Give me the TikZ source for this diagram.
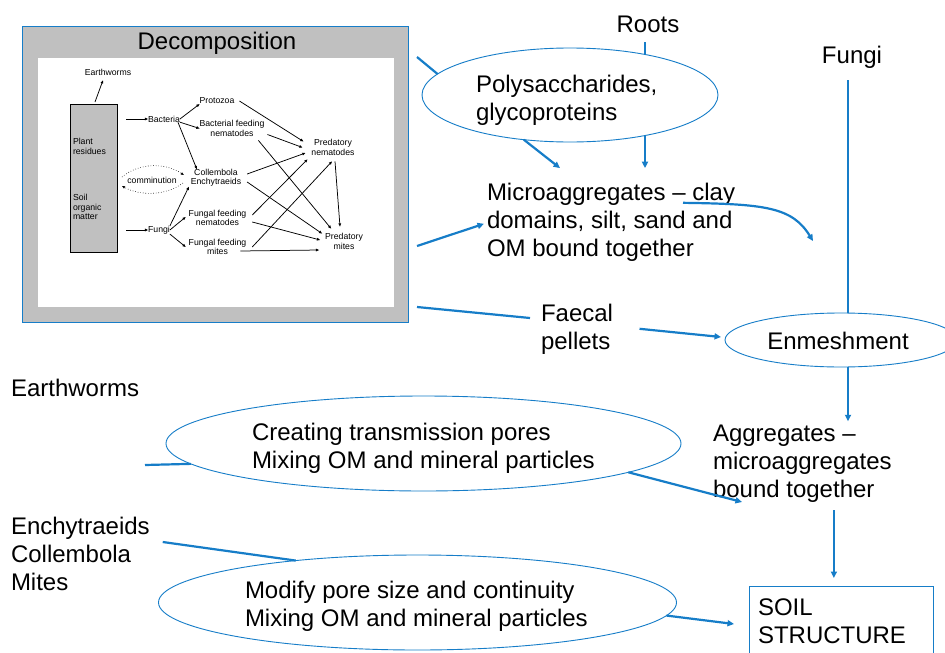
\documentclass[tikz,border=0pt]{standalone}
\usepackage{fontspec}
\setmainfont{Liberation Sans}
\usetikzlibrary{shapes.geometric,arrows.meta}
\definecolor{lblue}{RGB}{22,125,200}
\definecolor{boxgray}{RGB}{192,192,192}
\begin{document}
\begin{tikzpicture}[x=1pt,y=-1pt,
  big/.style={font=\fontsize{24}{28}\selectfont, inner sep=0pt, outer sep=0pt},
  small/.style={font=\fontsize{8.7}{9.4}\selectfont, inner sep=0pt, outer sep=0pt, align=center},
  conn/.style={draw=lblue, line width=2.2pt},
  carr/.style={conn, -{Triangle[length=6.5pt,width=6pt]}},
  oval/.style={ellipse, draw=lblue, line width=0.9pt, inner sep=0pt, outer sep=0pt},
  sarr/.style={draw=black, line width=0.75pt, -{Triangle[length=3.2pt,width=2.6pt]}},
  dotarr/.style={draw=black, line width=0.6pt, dotted, -{Triangle[length=3pt,width=2.4pt]}},
]
\useasboundingbox (0,0) rectangle (945,653);
\fill[white] (0,0) rectangle (945,653);

% ---------- Decomposition panel ----------
\node[draw=lblue, line width=0.8pt, fill=boxgray, minimum width=386, minimum height=296,
      anchor=north west, inner sep=0pt, outer sep=0pt] (decomp) at (22,26) {};
\node[fill=white, minimum width=356, minimum height=249, anchor=north west, inner sep=0pt] (panel) at (38,58) {};
\node[big] (dtitle) at (217,43) {Decomposition};

\node[draw=black, line width=0.7pt, fill=boxgray, minimum width=47, minimum height=148,
      anchor=north west, inner sep=0pt, outer sep=0pt] (res) at (70,104) {};
\node[small, align=left, anchor=west] (plant) at (73,146.5) {Plant\\residues};
\node[small, align=left, anchor=west] (som) at (73,207) {Soil\\organic\\matter};
\node[small] (ew) at (108,72) {Earthworms};
\node[small] (bact) at (164,119) {Bacteria};
\node[small] (proto) at (217,101) {Protozoa};
\node[small] (bfn) at (232,128.5) {Bacterial feeding\\nematodes};
\node[small] (pnem) at (333,147.5) {Predatory\\nematodes};
\node[small] (coll) at (216,178) {Collembola\\Enchytraeids};
\node[small] (comm) at (152,180) {comminution};
\node[small] (fungi) at (159,230) {Fungi};
\node[small] (ffn) at (217.5,218) {Fungal feeding\\nematodes};
\node[small] (ffm) at (217.5,247) {Fungal feeding\\mites};
\node[small] (pmites) at (344,241.5) {Predatory\\mites};

\coordinate (bsrc) at (126,119);
\coordinate (fsrc) at (126,230);

\draw[sarr] ([xshift=1.5pt,yshift=2pt]res.north) -- ([xshift=-5pt,yshift=-5pt]ew.south);
\draw[sarr] (bsrc) -- (bact.west);
\draw[sarr] (fsrc) -- (fungi.west);
\draw[sarr] (bact.east) -- (proto.south west);
\draw[sarr] (bact.south east) -- (bfn.west);
\draw[sarr] ([xshift=-2pt]bact.south east) -- ([xshift=6pt]coll.north west);
\draw[sarr] (fungi.north east) -- ([xshift=-2pt]coll.south west);
\draw[sarr] (fungi.east) -- ([xshift=-3pt,yshift=1pt]ffn.west);
\draw[sarr] (fungi.south east) -- ([xshift=-3pt]ffm.west);
\draw[sarr] ([xshift=5pt]proto.east) -- ([xshift=-8pt,yshift=6pt]pnem.west);
\draw[sarr] ([xshift=3pt,yshift=-6pt]bfn.east) -- ([xshift=-9pt]pnem.west);
\draw[sarr] ([xshift=-6pt,yshift=-4pt]bfn.south east) -- ([xshift=6pt,yshift=5pt]pmites.north west);
\draw[sarr] ([xshift=6pt,yshift=4pt]coll.east) -- ([xshift=-6pt,yshift=-5.5pt]pnem.west);
\draw[sarr] ([xshift=6pt,yshift=-4pt]coll.east) -- ([xshift=-3pt]pmites.north west);
\draw[sarr] ([xshift=6pt,yshift=3pt]ffn.east) -- ([xshift=-4pt,yshift=-4pt]pnem.south west);
\draw[sarr] ([xshift=6pt,yshift=-4pt]ffn.east) -- ([xshift=-5pt,yshift=1.5pt]pmites.west);
\draw[sarr] ([xshift=6pt]ffm.east) -- ([xshift=-1pt,yshift=-6pt]pnem.south);
\draw[sarr] ([xshift=-6pt,yshift=-4pt]ffm.east) -- ([xshift=-6pt,yshift=-8.5pt]pmites.west);
\draw[sarr] ([xshift=2pt,yshift=-6pt]pnem.south) -- ([xshift=-4pt,yshift=7pt]pmites.north);
\draw[dotarr] ([xshift=5pt,yshift=1pt]res.east) .. controls (140,162) and (166,163) .. ([xshift=-7pt,yshift=3pt]coll.west);
\draw[dotarr] ([xshift=-8pt,yshift=-5pt]coll.west) .. controls (166,196) and (140,196) .. ([xshift=5pt,yshift=-8pt]res.east);

% ---------- Main diagram ----------
\node[big] (roots) at (648,24) {Roots};
\node[big] (fungim) at (852,57.3) {Fungi};
\node[oval, minimum width=296, minimum height=94] (poly) at (570,95) {};
\node[big, align=left, anchor=west] (polyt) at (476,99.8) {Polysaccharides,\\glycoproteins};
\node[big, align=left, anchor=west] (micro) at (487,222.3) {Microaggregates -- clay\\domains, silt, sand and\\OM bound together};
\node[big, align=left, anchor=west] (faecal) at (541,328.8) {Faecal\\pellets};
\node[oval, minimum width=232, minimum height=54] (enm) at (841,340) {};
\node[big] (enmt) at (838,341) {Enmeshment};
\node[big, anchor=west] (eworm) at (11,388) {Earthworms};
\node[oval, minimum width=515, minimum height=95] (cre) at (423.5,443.5) {};
\node[big, align=left, anchor=west] (cret) at (252,448.3) {Creating transmission pores\\Mixing OM and mineral particles};
\node[big, align=left, anchor=west] (aggr) at (713,464) {Aggregates --\\microaggregates\\bound together};
\node[big, align=left, anchor=west] (ench) at (11,554) {Enchytraeids\\Collembola\\Mites};
\node[oval, minimum width=518, minimum height=95] (mod) at (417.5,602.5) {};
\node[big, align=left, anchor=west] (modt) at (245,605.8) {Modify pore size and continuity\\Mixing OM and mineral particles};
\node[draw=lblue, line width=0.9pt, minimum width=184, minimum height=94, anchor=north west,
      inner sep=0pt, outer sep=0pt] (soilbox) at (749,586) {};
\node[big, align=left, anchor=west] (soilt) at (758,621) {SOIL\\STRUCTURE};

\coordinate (mcend) at (813,241);
\coordinate (ewsrc) at (145,465);
\coordinate (rl) at ([xshift=-3pt,yshift=-10pt]roots.south);
\coordinate (fl) at ([xshift=-4pt,yshift=-11.7pt]fungim.south);
\coordinate (al) at ([xshift=31.5pt,yshift=-7.7pt]aggr.south);

\draw[conn] ([xshift=9pt,yshift=-31pt]decomp.north east) -- (poly.171);
\draw[carr] (poly.224) -- ([xshift=73pt,yshift=15pt]micro.north west);
\draw[conn] (rl) -- (rl |- poly.28);
\draw[carr] (rl |- poly.-28) -- ([yshift=15pt]rl |- micro.north);
\draw[carr] ([xshift=9pt,yshift=-72pt]decomp.east) -- ([xshift=-3pt,yshift=-1.5pt]micro.west);
\draw[carr] ([xshift=196pt,yshift=-19.7pt]micro.north west) .. controls (765,204) and (792,207) .. (mcend);
\draw[conn] ([xshift=9pt,yshift=-133pt]decomp.east) -- ([xshift=-11pt,yshift=10.8pt]faecal.west);
\draw[carr] ([xshift=26.5pt]faecal.east) -- ([xshift=-4pt,yshift=3pt]enm.west);
\draw[conn] (fl) -- (fl |- enm.75);
\draw[carr] (fl |- enm.-75) -- ([yshift=4pt]fl |- aggr.north);
\draw[conn] (ewsrc) -- (cre.185.7);
\draw[carr] (cre.-8.5) -- ([xshift=29pt,yshift=-38pt]aggr.west);
\draw[carr] (al) -- ([yshift=8pt]al |- soilbox.north);
\draw[conn] ([xshift=13pt,yshift=12pt]ench.east) -- (mod.161);
\draw[carr] (mod.-3) -- ([xshift=-15pt,yshift=9pt]soilbox.west);
\end{tikzpicture}
\end{document}
